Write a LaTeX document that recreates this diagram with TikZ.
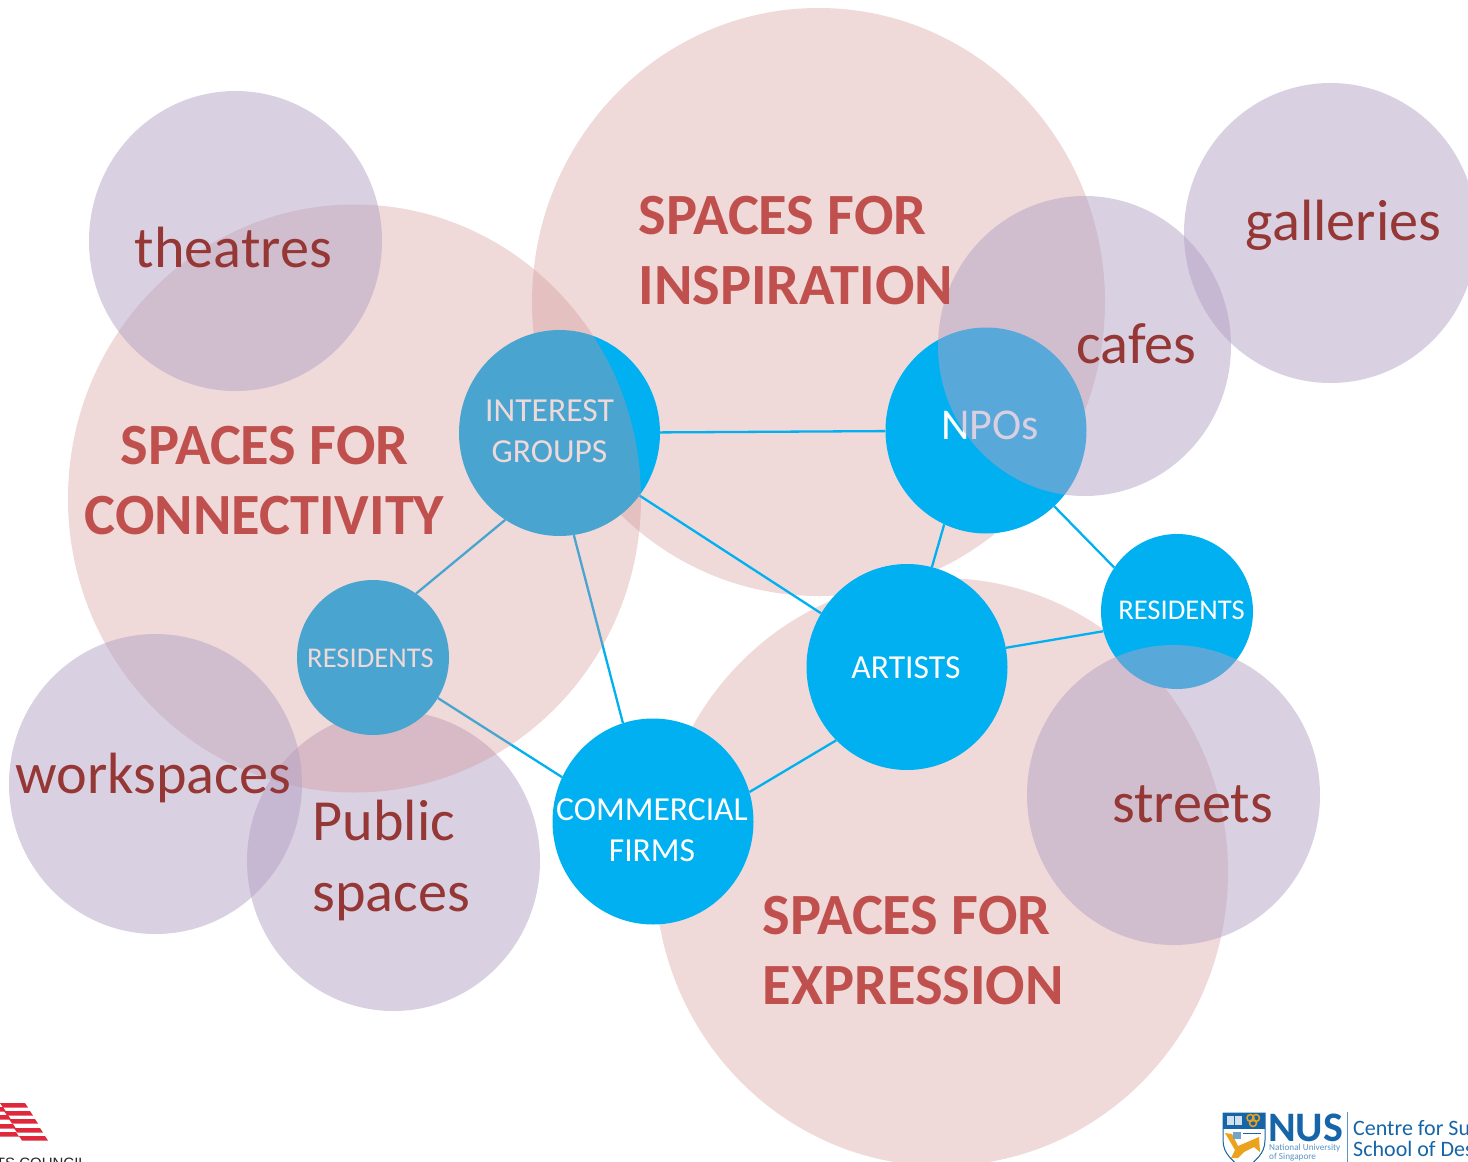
\documentclass[tikz,border=0pt]{standalone}
\usepackage{fontspec}
\setmainfont{Carlito}
\usetikzlibrary{shapes, arrows, fit}
\usetikzlibrary{positioning}
\definecolor{hubblue}{HTML}{00B0F0}
\definecolor{spacepink}{HTML}{D29292}
\definecolor{placepurple}{HTML}{B3A1C5}
\definecolor{spacered}{HTML}{C0504D}
\definecolor{placered}{HTML}{953735}
\definecolor{nusblue}{HTML}{1565A8}
\definecolor{nusorange}{HTML}{EBA31E}
\definecolor{councilred}{HTML}{E0283C}
\tikzset{
  bigspace/.style={ellipse,fill=spacepink,fill opacity=0.35,minimum width=573pt,minimum height=588pt,inner sep=0pt},
  place/.style={ellipse,fill=placepurple,fill opacity=0.5,minimum width=293pt,minimum height=300pt,inner sep=0pt},
  hub/.style={ellipse,fill=hubblue,minimum width=201pt,minimum height=206pt,inner sep=0pt},
  smallhub/.style={ellipse,fill=hubblue,minimum width=152pt,minimum height=155pt,inner sep=0pt},
  link/.style={draw=hubblue,line width=2.3pt},
  hubtext/.style={text=white,align=center,font=\fontsize{33.6}{41}\selectfont},
  restext/.style={text=white,font=\fontsize{28.6}{34}\selectfont},
  spacetext/.style={text=spacered,font=\fontsize{58.4}{70}\selectfont\bfseries},
  placetext/.style={text=placered,font=\fontsize{58.2}{71}\selectfont},
}
\begin{document}
\begin{tikzpicture}[x=1pt,y=-1pt]
\useasboundingbox (0,0) rectangle (1468,1162);
\clip (0,0) rectangle (1468,1162);
% spaces under the hubs
\node[bigspace] (insp) at (818.5,302) {};
\node[bigspace] (expr) at (941.5,872) {};
\node[place] (publ) at (393.5,861) {};
% hubs
\node[hub] (grp) at (559.5,433) {};
\node[hub] (npo) at (986,430.5) {};
\node[hub] (art) at (907,667) {};
\node[hub] (com) at (653,821.5) {};
\node[smallhub] (resl) at (373,657.5) {};
\node[smallhub] (resr) at (1177,611.5) {};
\node[hubtext] (grptxt) at (549.5,431) {INTEREST\\GROUPS};
\node[hubtext,font=\fontsize{44}{50}\selectfont] (npotxt) at (990,425) {NPOs};
\node[hubtext] (arttxt) at (906,667.5) {ARTISTS};
\node[hubtext] (comtxt) at (652,830) {COMMERCIAL\\FIRMS};
\node[restext] (resltxt) at (370.5,658) {RESIDENTS};
\node[restext] (resrtxt) at (1181.5,610) {RESIDENTS};
\draw[link]
  (grp) -- (npo)
  (grp.-38) -- (art.148)
  (grp.238) -- (resl.56)
  (grp.-82) -- (com.107)
  (resl.-32) -- (com.154)
  (com.17) -- (art.226)
  (art.76) -- (npo.246)
  (art.11) -- (resr.195)
  (npo.-48) -- (resr.145);
% spaces and places over the hubs
\node[bigspace] (conn) at (354.5,498.5) {};
\node[place] (thea) at (235.5,241) {};
\node[place] (gall) at (1330.5,233) {};
\node[place] (cafe) at (1084.5,346) {};
\node[place] (work) at (155.5,784) {};
\node[place] (stre) at (1173.5,795) {};
% labels
\node[spacetext,align=left,anchor=west] (insptxt) at (635,251) {SPACES FOR\\INSPIRATION};
\node[spacetext,align=center] (conntxt) at (264.5,480.5) {SPACES FOR\\CONNECTIVITY};
\node[spacetext,align=left,anchor=west] (exprtxt) at (759,951) {SPACES FOR\\EXPRESSION};
\node[placetext] (theatxt) at (233.5,248) {theatres};
\node[placetext] (galltxt) at (1343.5,225) {galleries};
\node[placetext] (cafetxt) at (1136.5,344) {cafes};
\node[placetext] (worktxt) at (153,778) {workspaces};
\node[placetext,align=left,anchor=west] (publtxt) at (309,860) {Public\\spaces};
\node[placetext] (stretxt) at (1192.5,804) {streets};
% arts council logo
\foreach \ya/\xa/\xb in {1103/0/28,1111/4/33,1119/9/38,1128/14/43,1136/19/48}
  \fill[councilred] (\xa,\ya) -- (\xb-3,\ya) -- (\xb,\ya+4.5) -- (\xa+3,\ya+4.5) -- cycle;
\foreach \ya/\xb in {1111/3,1119/8,1128/13,1136/16}
  \fill[councilred] (0,\ya-4) -- (\xb,\ya-4) -- (\xb+3,\ya+0.5) -- (0,\ya+0.5) -- cycle;
\node[anchor=base east,inner sep=0pt,font=\fontsize{15}{15}\selectfont\fontspec{Liberation Sans},text=black!85] (council) at (87,1168) {ARTS COUNCIL};
% nus logo
\fill[white,draw=nusblue,line width=1pt] (1223,1113) -- (1265,1113) -- (1265,1140) to[out=-90,in=40] (1244,1170) to[out=140,in=-90] (1223,1140) -- cycle;
\fill[nusblue] (1223,1113) rectangle (1265,1129);
\fill[white!80!nusblue] (1227,1116) rectangle (1242,1125);
\draw[nusblue,line width=0.8pt] (1234.5,1116) -- (1234.5,1125);
\draw[nusorange,line width=1.5pt] (1250.5,1118) circle (3.5pt) (1256,1118) circle (3.5pt) (1253,1123) circle (3.5pt);
\fill[nusorange] (1225,1133) -- (1232,1134) -- (1238,1146) -- (1259,1137) -- (1260,1152) -- (1254,1147) -- (1244,1152) -- (1238,1158) -- (1231,1158) -- (1235,1150) -- cycle;
\fill[nusblue!60] (1233,1132) rectangle (1241,1139);
\draw[nusblue,line width=0.8pt] (1243,1133) -- (1261,1133);
\node[anchor=base west,inner sep=0pt,text=nusblue,font=\fontsize{42}{42}\selectfont\bfseries] (nus) at (1268,1141) {NUS};
\node[anchor=base west,inner sep=0pt,text=nusblue!70,font=\fontsize{9.2}{10}\selectfont] (nusname) at (1269,1150.5) {National University};
\node[anchor=base west,inner sep=0pt,text=nusblue!70,font=\fontsize{9.2}{10}\selectfont] (nusplace) at (1269,1159) {of Singapore};
\draw[nusblue!70,line width=1pt] (1347,1112) -- (1347,1162);
\node[anchor=base west,inner sep=0pt,text=nusblue,font=\fontsize{22}{22}\selectfont] (centre) at (1353,1135) {Centre for Su};
\node[anchor=base west,inner sep=0pt,text=nusblue,font=\fontsize{22}{22}\selectfont] (school) at (1353,1156) {School of Des};
\end{tikzpicture}
\end{document}
